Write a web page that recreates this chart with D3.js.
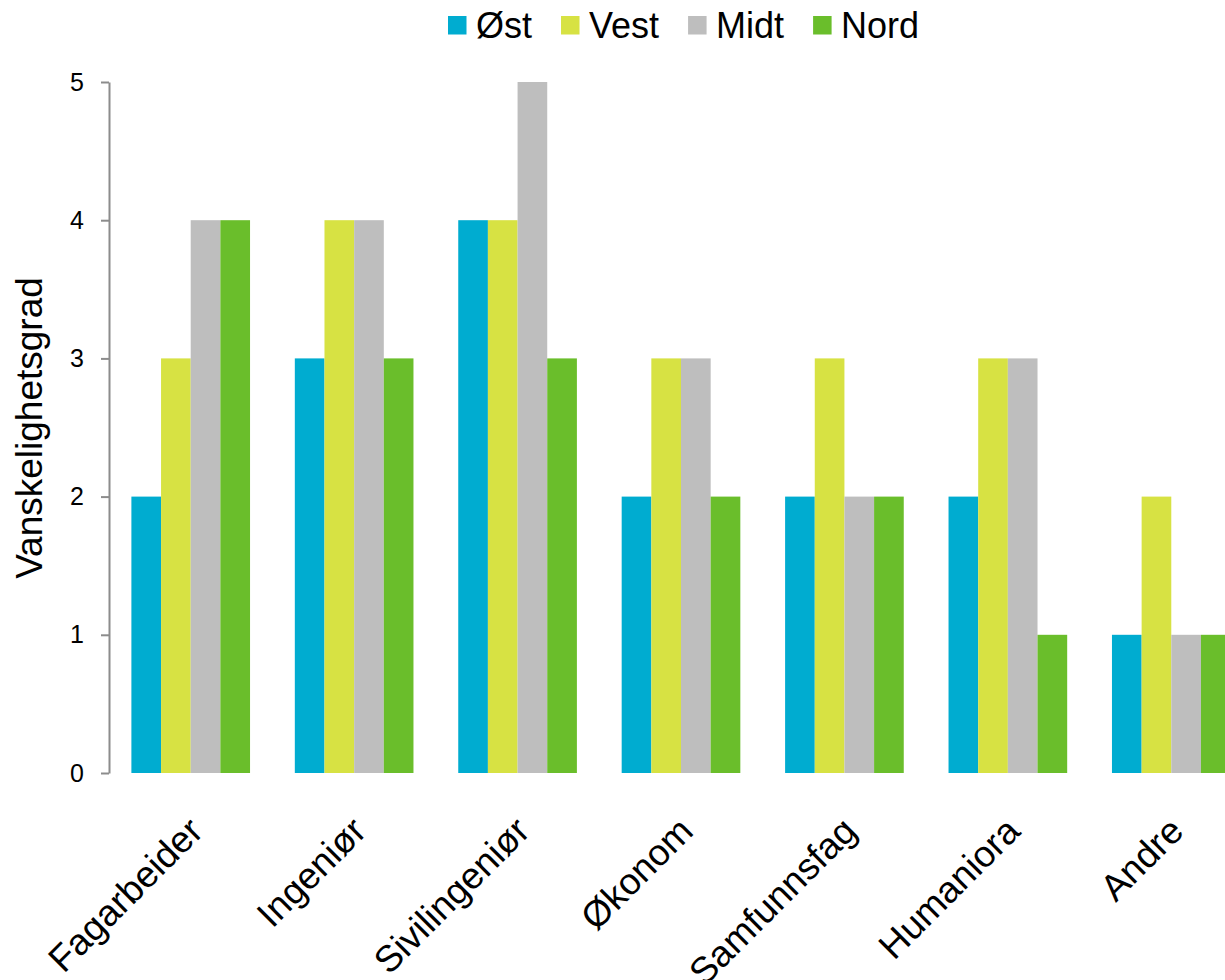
<!DOCTYPE html>
<html>
<head>
<meta charset="utf-8">
<script src="https://cdnjs.cloudflare.com/ajax/libs/d3/7.8.5/d3.min.js"></script>
<style>
  body { margin: 0; background: #fff; }
</style>
</head>
<body>
<div id="chart"></div>
<script>
// Data
var categories = ["Fagarbeider", "Ingeniør", "Sivilingeniør", "Økonom", "Samfunnsfag", "Humaniora", "Andre"];
var seriesNames = ["Øst", "Vest", "Midt", "Nord"];
var ost  = [2, 3, 4, 2, 2, 2, 1];
var vest = [3, 4, 4, 3, 3, 3, 2];
var midt = [4, 4, 5, 3, 2, 3, 1];
var nord = [4, 3, 3, 2, 2, 1, 1];
var yTicks = [0, 1, 2, 3, 4, 5];
var yLabel = "Vanskelighetsgrad";

var attrs = {
  svgWidth: 1225,
  svgHeight: 980,
  marginTop: 82,
  marginLeft: 109,
  plotRight: 1253,
  plotBottom: 773,
  defaultFont: '"Liberation Sans", Arial, Helvetica, sans-serif',
  colors: ["#00acd0", "#d7e243", "#bebebe", "#6abe2b"],
  axisColor: "#8c8c8c"
};

var seriesValues = [ost, vest, midt, nord];
var rows = categories.map(function (c, i) {
  return { category: c, values: seriesNames.map(function (s, j) { return { key: s, value: seriesValues[j][i] }; }) };
});

var color = d3.scaleOrdinal().domain(seriesNames).range(attrs.colors);

var x0 = d3.scaleBand()
  .domain(categories)
  .range([attrs.marginLeft, attrs.plotRight])
  .paddingInner(0.274)
  .paddingOuter(0.137);

var x1 = d3.scaleBand()
  .domain(seriesNames)
  .range([0, x0.bandwidth()]);

var y = d3.scaleLinear()
  .domain([0, 5])
  .range([attrs.plotBottom, attrs.marginTop]);

//Add svg
var svg = d3.select('#chart').append('svg')
  .attr('width', attrs.svgWidth)
  .attr('height', attrs.svgHeight)
  .attr('font-family', attrs.defaultFont);

//Bars
var groups = svg.selectAll('g.group')
  .data(rows)
  .enter().append('g')
  .attr('class', 'group')
  .attr('transform', function (d) { return 'translate(' + x0(d.category) + ',0)'; });

groups.selectAll('rect')
  .data(function (d) { return d.values; })
  .enter().append('rect')
  .attr('x', function (d) { return x1(d.key); })
  .attr('y', function (d) { return y(d.value); })
  .attr('width', x1.bandwidth())
  .attr('height', function (d) { return y(0) - y(d.value); })
  .attr('fill', function (d) { return color(d.key); });

//Y axis
var yAxis = d3.axisLeft(y)
  .tickValues(yTicks)
  .tickFormat(d3.format('d'))
  .tickSize(8)
  .tickSizeOuter(0)
  .tickPadding(17);

var yAxisG = svg.append('g')
  .attr('transform', 'translate(' + attrs.marginLeft + ',0)')
  .call(yAxis);

yAxisG.select('.domain').attr('stroke', attrs.axisColor).attr('stroke-width', 2);
yAxisG.selectAll('.tick line').attr('stroke', attrs.axisColor).attr('stroke-width', 2);
yAxisG.selectAll('.tick text')
  .attr('font-family', attrs.defaultFont)
  .attr('font-size', 25)
  .attr('fill', '#000');

//Y axis label
svg.append('text')
  .attr('transform', 'translate(42,' + 428 + ') rotate(-90)')
  .attr('text-anchor', 'middle')
  .attr('font-size', 37)
  .attr('fill', '#000')
  .text(yLabel);

//X labels
svg.selectAll('text.xlabel')
  .data(categories)
  .enter().append('text')
  .attr('class', 'xlabel')
  .attr('transform', function (d) {
    return 'translate(' + (x0(d) + x0.bandwidth() / 2 + 5) + ',824) rotate(-45)';
  })
  .attr('text-anchor', 'end')
  .attr('dy', '0.35em')
  .attr('font-size', 37)
  .attr('fill', '#000')
  .text(function (d) { return d; });

//Legend
var legend = svg.append('g').attr('class', 'legend');
var legendX = 448;
seriesNames.forEach(function (s) {
  var item = legend.append('g').attr('transform', 'translate(' + legendX + ',0)');
  item.append('rect')
    .attr('x', 0).attr('y', 16)
    .attr('width', 18.5).attr('height', 18.5)
    .attr('fill', color(s));
  var t = item.append('text')
    .attr('x', 28).attr('y', 38)
    .attr('font-size', 36)
    .attr('fill', '#000')
    .text(s);
  legendX += 28 + t.node().getComputedTextLength() + 29;
});
</script>
</body>
</html>
